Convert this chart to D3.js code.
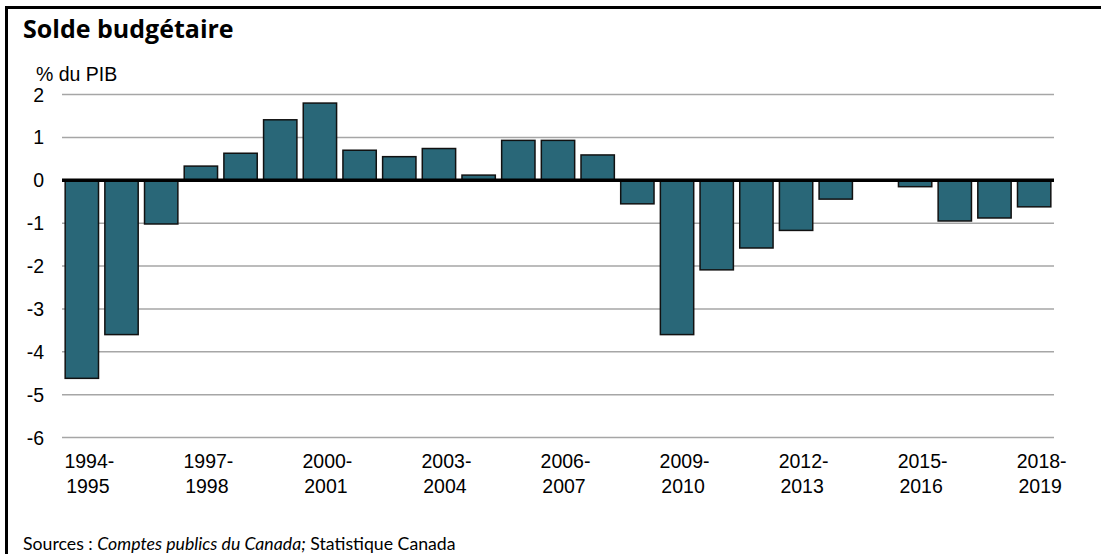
<!DOCTYPE html>
<html>
<head>
<meta charset="utf-8">
<script src="https://cdn.jsdelivr.net/npm/d3@7"></script>
<style>
  html, body { margin: 0; padding: 0; background: #fff; }
  svg { display: block; }
</style>
</head>
<body>
<svg id="chart" width="1101" height="554"></svg>
<script>
const years = d3.range(1994, 2019).map((y) => `${y}-${y + 1}`)
const balance = [
  -4.62, -3.6, -1.02, 0.33, 0.63, 1.41, 1.8, 0.7, 0.55, 0.74, 0.12, 0.93, 0.93,
  0.59, -0.55, -3.6, -2.09, -1.58, -1.17, -0.44, -0.02, -0.15, -0.95, -0.88, -0.62,
]
const yTicks = [2, 1, 0, -1, -2, -3, -4, -5, -6]
const labelEvery = 3

const svg = d3.select("#chart")
const m = {left: 62, right: 1054, top: 94.5, bottom: 437.5}
const arial = "'Liberation Sans', Arial, sans-serif"

const x = d3.scaleBand().domain(years).range([m.left, m.right]).paddingInner(0.16).paddingOuter(0.08)
const y = d3.scaleLinear().domain([-6, 2]).range([m.bottom, m.top])

// frame: top and left rules only
svg.append("line").attr("x1", 5).attr("x2", 1101).attr("y1", 7.5).attr("y2", 7.5)
  .attr("stroke", "#000").attr("stroke-width", 3)
svg.append("line").attr("x1", 6.5).attr("x2", 6.5).attr("y1", 6).attr("y2", 554)
  .attr("stroke", "#000").attr("stroke-width", 3)

svg.append("text").attr("x", 23).attr("y", 38)
  .attr("font-family", "'Open Sans', sans-serif").attr("font-weight", 700).attr("font-size", 25)
  .text("Solde budgétaire")

svg.append("text").attr("x", 36).attr("y", 81)
  .attr("font-family", arial).attr("font-size", 19.5)
  .text("% du PIB")

// gridlines
svg.append("g").selectAll("line").data(yTicks.filter((d) => d !== 0)).join("line")
  .attr("x1", m.left).attr("x2", m.right)
  .attr("y1", (d) => y(d)).attr("y2", (d) => y(d))
  .attr("stroke", "#a6a6a6").attr("stroke-width", 1.5)

svg.append("g").selectAll("text").data(yTicks).join("text")
  .attr("x", 44).attr("y", (d) => y(d)).attr("dy", "0.36em")
  .attr("text-anchor", "end")
  .attr("font-family", arial).attr("font-size", 19.5)
  .text((d) => d)

// bars
svg.append("g").selectAll("rect").data(balance).join("rect")
  .attr("x", (d, i) => x(years[i]))
  .attr("width", x.bandwidth())
  .attr("y", (d) => y(Math.max(0, d)))
  .attr("height", (d) => Math.abs(y(d) - y(0)))
  .attr("fill", "#296778")
  .attr("stroke", "#111")
  .attr("stroke-width", 1.5)

// zero line
svg.append("line").attr("x1", m.left).attr("x2", m.right)
  .attr("y1", y(0)).attr("y2", y(0))
  .attr("stroke", "#000").attr("stroke-width", 3.5)

// x labels, two lines
const xl = svg.append("g").selectAll("text")
  .data(years.filter((d, i) => i % labelEvery === 0)).join("text")
  .attr("x", (d) => x(d) + x.bandwidth() / 2 + 7.5)
  .attr("y", 468)
  .attr("text-anchor", "middle")
  .attr("font-family", arial).attr("font-size", 19.5)
xl.append("tspan").text((d) => d.split("-")[0] + "-")
xl.append("tspan").attr("x", (d) => x(d) + x.bandwidth() / 2 + 6).attr("dy", 25)
  .text((d) => d.split("-")[1])

const src = svg.append("text").attr("x", 23).attr("y", 550)
  .attr("font-family", "Lato, sans-serif").attr("font-size", 17.7)
src.append("tspan").text("Sources : ")
src.append("tspan").attr("font-style", "italic").text("Comptes publics du Canada;")
src.append("tspan").text(" Statistique Canada")
</script>
</body>
</html>
